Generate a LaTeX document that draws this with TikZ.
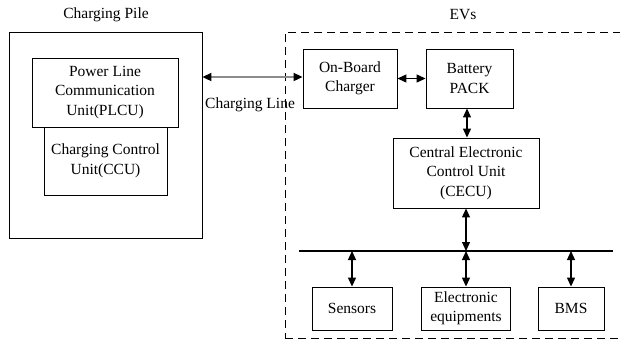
\documentclass[tikz,border=0pt]{standalone}
\usepackage{fontspec}
\setmainfont{Liberation Serif}
\usetikzlibrary{arrows.meta}
\begin{document}
\begin{tikzpicture}[x=1pt,y=-1pt,
  >={Triangle[length=9pt,width=8pt]},
  box/.style={draw,line width=0.9pt,inner sep=0pt,align=center,font=\fontsize{15.5}{19.5}\selectfont},
  lbl/.style={font=\fontsize{15.5}{19.5}\selectfont,inner sep=0pt},
  dbl/.style={line width=1.2pt,<->}]
\useasboundingbox (0,0) rectangle (620,341);
% Charging pile
\node[draw,line width=0.9pt,minimum width=193pt,minimum height=206pt,inner sep=0pt] (pile) at (105.5,135) {};
\node[lbl] (pilelbl) at (106,15) {Charging Pile};
\node[box,minimum width=146pt,minimum height=69pt] (plcu) at (105,92.5) {Power Line\\Communication\\Unit(PLCU)};
\node[box,minimum width=123pt,minimum height=68pt] (ccu) at (105.5,161) {Charging Control\\Unit(CCU)};
% EVs
\node[draw,dashed,dash pattern=on 8pt off 5pt,line width=0.9pt,minimum width=340pt,minimum height=306pt,inner sep=0pt] (evs) at (455,185) {};
\node[lbl] (evslbl) at (463,15) {EVs};
\node[box,minimum width=94pt,minimum height=59pt] (obc) at (350,78.5) {On-Board\\Charger};
\node[box,minimum width=87pt,minimum height=59pt] (bat) at (469.5,78.5) {Battery\\PACK};
\node[box,minimum width=146pt,minimum height=70pt] (cecu) at (466,173) {Central Electronic\\Control Unit\\(CECU)};
\coordinate (busL) at (299,251);
\coordinate (busR) at (613,251);
\draw[line width=2.6pt] (busL) -- (busR);
\node[box,minimum width=80pt,minimum height=43pt] (sens) at (352,308.5) {Sensors};
\node[box,minimum width=89pt,minimum height=43pt] (elec) at (466,308.5) {Electronic\\equipments};
\node[box,minimum width=66pt,minimum height=43pt] (bms) at (571,308.5) {BMS};
% connectors
\draw[line width=2pt,draw=black!45,>={Triangle[length=9pt,width=8pt,color=black]},<->] ([yshift=1.5pt]pile.east |- obc.west) -- ([yshift=1.5pt]obc.west);
\node[lbl,anchor=west] (cl) at (205,105) {Charging Line};
\draw[dbl] (obc.east) -- (bat.west);
\draw[dbl] ([xshift=-2.5pt]bat.south) -- ([xshift=-2.5pt]bat.south |- cecu.north);
\draw[dbl] (cecu.south) -- (cecu.south |- busL);
\draw[dbl] (sens.north) -- (sens.north |- busL);
\draw[dbl] (elec.north) -- (elec.north |- busL);
\draw[dbl] (bms.north) -- (bms.north |- busL);
\end{tikzpicture}
\end{document}
